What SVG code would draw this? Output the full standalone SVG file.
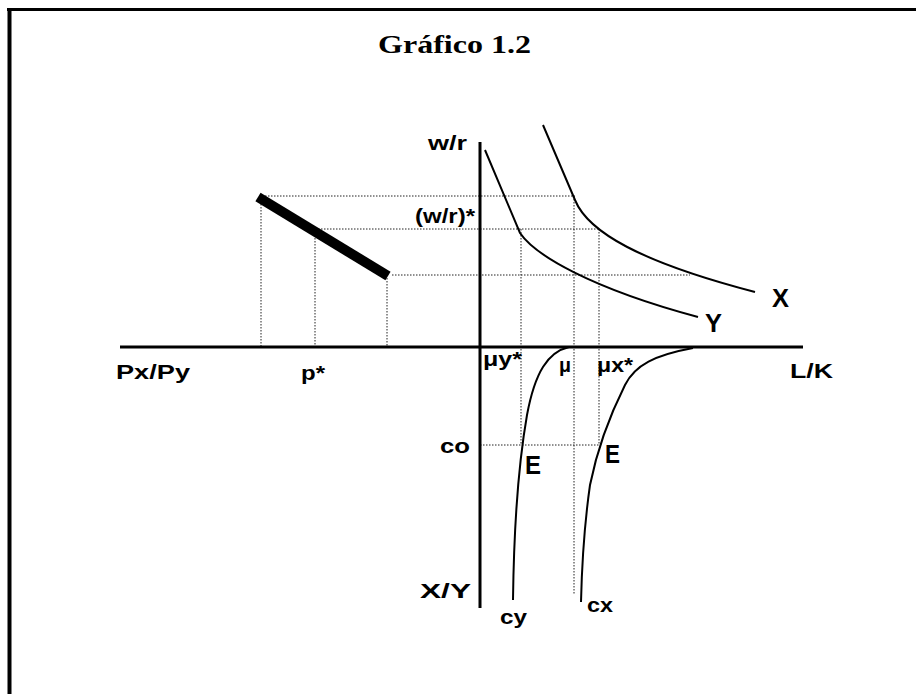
<svg xmlns="http://www.w3.org/2000/svg" width="916" height="694" viewBox="0 0 916 694">
<style>
.lbl{font-family:"Liberation Sans",Arial,sans-serif;font-weight:bold;font-size:21px;fill:#000}
.big{font-size:25px}
.dot{stroke:#222;stroke-width:1;stroke-dasharray:1.5 1.5;fill:none}
.axis{stroke:#000;stroke-width:3;fill:none}
.crv{stroke:#000;stroke-width:2;fill:none}
</style>
<rect width="916" height="694" fill="#fff"/>
<g id="frame">
<line x1="7" y1="9.5" x2="916" y2="9.5" stroke="#000" stroke-width="3"/>
<line x1="9.5" y1="8" x2="9.5" y2="694" stroke="#000" stroke-width="4"/>
</g>
<text x="378" y="53" font-family="'Liberation Serif','Times New Roman',serif" font-weight="bold" font-size="25" textLength="153" lengthAdjust="spacingAndGlyphs">Gráfico 1.2</text>
<g id="guides">
<line class="dot" x1="262" y1="196" x2="575" y2="196"/>
<line class="dot" x1="315" y1="229" x2="599" y2="229"/>
<line class="dot" x1="392" y1="275" x2="690" y2="275"/>
<line class="dot" x1="480" y1="445" x2="600" y2="445"/>
<line class="dot" x1="261" y1="198" x2="261" y2="346"/>
<line class="dot" x1="315" y1="229" x2="315" y2="346"/>
<line class="dot" x1="387" y1="278" x2="387" y2="346"/>
<line class="dot" x1="521" y1="229" x2="521" y2="445"/>
<line class="dot" x1="574" y1="196" x2="574" y2="594"/>
<line class="dot" x1="599" y1="229" x2="599" y2="445"/>
</g>
<g id="axes">
<line class="axis" x1="120" y1="347" x2="803" y2="347"/>
<line class="axis" x1="480" y1="142" x2="480" y2="608"/>
</g>
<g id="curves">
<line x1="258" y1="197" x2="388" y2="276" stroke="#000" stroke-width="10"/>
<path class="crv" d="M485,150 L520,233 C535,255 590,288 698,317"/>
<path class="crv" d="M543,125 L575,200 C588,232 640,262 755,292"/>
<path class="crv" d="M569,347 C548,352 535,372 527,415 C520,455 514,520 513,600"/>
<path class="crv" d="M693,348 C655,355 635,365 625,385 C610,415 598,445 590,485 C585,520 582,560 581,602"/>
</g>
<g id="labels">
<text class="lbl" x="428" y="150" font-size="19" textLength="39" lengthAdjust="spacingAndGlyphs">w/r</text>
<text class="lbl" x="415" y="223" font-size="18" textLength="60" lengthAdjust="spacingAndGlyphs">(w/r)*</text>
<text class="lbl big" x="772" y="307" textLength="17" lengthAdjust="spacingAndGlyphs">X</text>
<text class="lbl big" x="705" y="332" textLength="17" lengthAdjust="spacingAndGlyphs">Y</text>
<text class="lbl" x="116" y="379" textLength="74" lengthAdjust="spacingAndGlyphs">Px/Py</text>
<text class="lbl" x="301" y="380" textLength="24" lengthAdjust="spacingAndGlyphs">p*</text>
<text class="lbl" x="483" y="366" textLength="39" lengthAdjust="spacingAndGlyphs">μy*</text>
<text class="lbl" x="559" y="372" textLength="12" lengthAdjust="spacingAndGlyphs">μ</text>
<text class="lbl" x="597" y="372" textLength="36" lengthAdjust="spacingAndGlyphs">μx*</text>
<text class="lbl" x="790" y="378" textLength="43" lengthAdjust="spacingAndGlyphs">L/K</text>
<text class="lbl" x="440" y="453" textLength="30" lengthAdjust="spacingAndGlyphs">co</text>
<text class="lbl big" x="525" y="474" textLength="16" lengthAdjust="spacingAndGlyphs">E</text>
<text class="lbl big" x="605" y="463" textLength="15" lengthAdjust="spacingAndGlyphs">E</text>
<text class="lbl" x="420" y="598" textLength="51" lengthAdjust="spacingAndGlyphs">X/Y</text>
<text class="lbl" x="500" y="624" textLength="27" lengthAdjust="spacingAndGlyphs">cy</text>
<text class="lbl" x="587" y="612" textLength="26" lengthAdjust="spacingAndGlyphs">cx</text>
</g>
</svg>
